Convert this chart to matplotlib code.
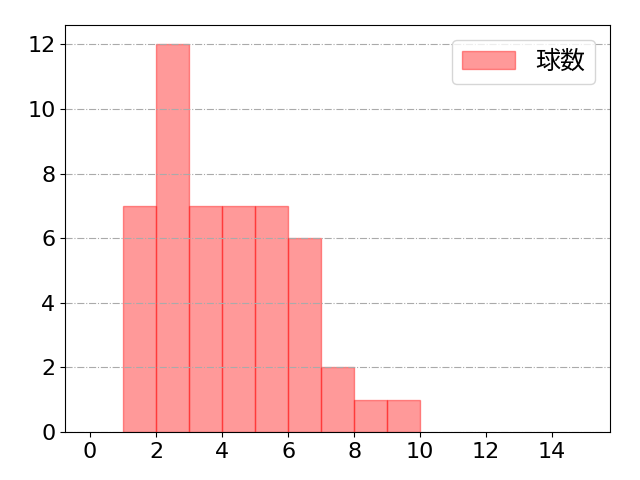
import matplotlib
matplotlib.use("Agg")
import matplotlib.pyplot as plt

plt.rcParams['font.family'] = ['DejaVu Sans', 'Noto Sans CJK JP']

bin_edges = [1, 2, 3, 4, 5, 6, 7, 8, 9, 10]
counts = [7, 12, 7, 7, 7, 6, 2, 1, 1]
label = "球数"

fig, ax = plt.subplots(figsize=(6.4, 4.8), dpi=100)
ax.hist(bin_edges[:-1], bins=bin_edges, weights=counts, color='red', alpha=0.4,
        edgecolor='red', linewidth=1, label=label)
ax.set_xlim(-0.75, 15.75)
ax.set_ylim(0, 12.6)
ax.set_xticks([0, 2, 4, 6, 8, 10, 12, 14])
ax.set_yticks([0, 2, 4, 6, 8, 10, 12])
ax.tick_params(labelsize=16)
ax.grid(axis='y', linestyle='-.', color='#aaaaaa', linewidth=0.8)
ax.legend(loc='upper right', fontsize=18, handlelength=2.1, handletextpad=0.8,
          borderaxespad=0.6)
fig.subplots_adjust(left=0.102, right=0.953, top=0.948, bottom=0.1)
fig.savefig("out.png", dpi=100)
